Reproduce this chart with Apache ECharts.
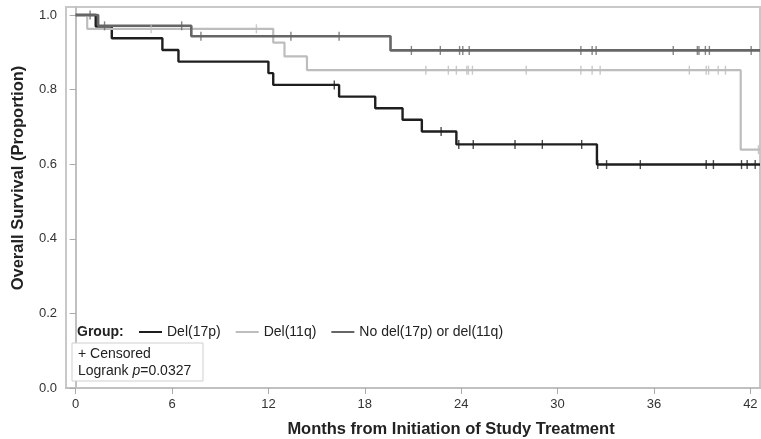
<!DOCTYPE html>
<html>
<head>
<meta charset="utf-8">
<script src="https://cdn.jsdelivr.net/npm/echarts@6/dist/echarts.min.js"></script>
<style>
html, body { margin: 0; padding: 0; background: #fff; }
#chart { width: 761px; height: 439px; }
</style>
</head>
<body>
<div id="chart"></div>
<script>
// Kaplan-Meier steps: time of change and survival after it
const del17pTimes = [0, 1.25, 2.25, 5.4, 6.4, 12.0, 12.3, 16.4, 18.65, 20.35, 21.55, 23.7, 32.45];
const del17pSurv = [1, 0.969, 0.9375, 0.906, 0.875, 0.844, 0.8125, 0.781, 0.75, 0.719, 0.6875, 0.653, 0.599];
const del17pCens = [16.1, 22.75, 23.85, 24.75, 27.35, 29.05, 31.5, 32.5, 33.05, 35.15, 39.25, 39.7, 41.45, 41.8, 42.3];

const del11qTimes = [0, 0.72, 12.3, 13.0, 14.4, 41.4];
const del11qSurv = [1, 0.963, 0.926, 0.889, 0.852, 0.639];
const del11qCens = [4.7, 11.25, 21.8, 23.2, 23.7, 24.35, 24.45, 24.7, 28.05, 31.45, 32.15, 32.65, 38.2, 39.25, 39.4, 40.0, 40.45, 42.5];

const noDelTimes = [0, 1.4, 7.2, 19.6];
const noDelSurv = [1, 0.971, 0.943, 0.905];
const noDelCens = [0.9, 1.8, 6.6, 7.8, 13.4, 16.4, 20.9, 22.7, 23.9, 24.1, 24.5, 31.45, 32.15, 32.4, 37.2, 38.7, 38.8, 39.2, 39.45, 42.05];

const xTicks = [0, 6, 12, 18, 24, 30, 36, 42];
const yTicks = [0, 0.2, 0.4, 0.6, 0.8, 1.0];
const xEnd = 42.6;

function stepLine(times, surv) {
    let pts = times.map(function (t, i) { return [t, surv[i]]; });
    pts.push([xEnd, surv[surv.length - 1]]);
    return pts;
}
function censorPts(times, surv, cens) {
    return cens.map(function (c) {
        let v = surv[0];
        for (let i = 0; i < times.length; i++) {
            if (times[i] <= c) v = surv[i];
        }
        return [c, v];
    });
}

const groups = [
    {name: 'Del(17p)', times: del17pTimes, surv: del17pSurv, cens: del17pCens, color: '#1e1e1e', width: 2.4},
    {name: 'Del(11q)', times: del11qTimes, surv: del11qSurv, cens: del11qCens, color: '#bdbdbd', width: 2.2},
    {name: 'No del(17p) or del(11q)', times: noDelTimes, surv: noDelSurv, cens: noDelCens, color: '#666666', width: 2.6}
];

let series = [];
groups.forEach(function (g) {
    series.push({
        name: g.name,
        type: 'line',
        step: 'end',
        showSymbol: false,
        data: stepLine(g.times, g.surv),
        lineStyle: {color: g.color, width: g.width},
        itemStyle: {color: g.color},
        z: 2
    });
    series.push({
        name: g.name + ' censored',
        type: 'scatter',
        symbol: 'rect',
        symbolSize: [1.4, 9],
        data: censorPts(g.times, g.surv, g.cens),
        itemStyle: {color: g.color},
        z: 3
    });
});

let chart = echarts.init(document.getElementById('chart'));
const option = {
    animation: false,
    backgroundColor: '#fff',
    textStyle: {fontFamily: 'Liberation Sans, Arial, sans-serif'},
    grid: {
        left: 66, right: 1, top: 7, bottom: 51,
        containLabel: false,
        outerBoundsMode: 'none',
        show: true,
        borderColor: '#c8c8c8',
        borderWidth: 2
    },
    legend: {
        data: groups.map(function (g) { return g.name; }),
        left: 134,
        top: 320,
        icon: 'rect',
        itemWidth: 23,
        itemHeight: 2,
        itemGap: 15,
        textStyle: {fontSize: 14, color: '#222', padding: [0, 0, 0, 0]},
        selectedMode: false
    },
    xAxis: {
        type: 'value',
        min: -0.6,
        max: xEnd,
        axisLine: {show: true, lineStyle: {color: '#c0c0c0', width: 2}},
        axisTick: {show: true, customValues: xTicks, length: 6, lineStyle: {color: '#aaa'}},
        axisLabel: {customValues: xTicks, fontSize: 13, color: '#333', margin: 10},
        splitLine: {show: false}
    },
    yAxis: {
        type: 'value',
        min: 0,
        max: 1.0214,
        axisLine: {show: true, lineStyle: {color: '#c0c0c0', width: 2}},
        axisTick: {show: true, customValues: yTicks, length: 6, lineStyle: {color: '#aaa'}},
        axisLabel: {
            customValues: yTicks, fontSize: 13, color: '#333', margin: 9,
            formatter: function (v) { return v.toFixed(1); }
        },
        splitLine: {show: false}
    },
    graphic: [
        {
            type: 'text', left: 77, top: 325,
            style: {text: 'Group:', font: 'bold 14px Liberation Sans, Arial, sans-serif', fill: '#222'}
        },
        {
            type: 'rect', shape: {x: 72, y: 343, width: 131, height: 38},
            style: {fill: '#fff', stroke: '#cfcfcf', lineWidth: 1}, z: 10
        },
        {
            type: 'text', left: 78, top: 347, z: 11,
            style: {text: '+ Censored', font: '14px Liberation Sans, Arial, sans-serif', fill: '#222'}
        },
        {
            type: 'text', left: 78, top: 364, z: 11,
            style: {
                text: 'Logrank {i|p}=0.0327',
                font: '14px Liberation Sans, Arial, sans-serif',
                fill: '#222',
                rich: {i: {fontStyle: 'italic', fontSize: 14, fontFamily: 'Liberation Sans, Arial, sans-serif', fill: '#222'}}
            }
        },
        {
            type: 'text', x: 451, y: 429,
            style: {
                text: 'Months from Initiation of Study Treatment',
                font: 'bold 16.5px Liberation Sans, Arial, sans-serif',
                fill: '#222', align: 'center', verticalAlign: 'middle'
            }
        },
        {
            type: 'text', x: 18, y: 178, rotation: Math.PI / 2,
            style: {
                text: 'Overall Survival (Proportion)',
                font: 'bold 16.5px Liberation Sans, Arial, sans-serif',
                fill: '#222', align: 'center', verticalAlign: 'middle'
            }
        }
    ],
    series: series
};

chart.setOption(option);

window.addEventListener('resize', function () {
    chart.resize();
});
</script>
</body>
</html>
